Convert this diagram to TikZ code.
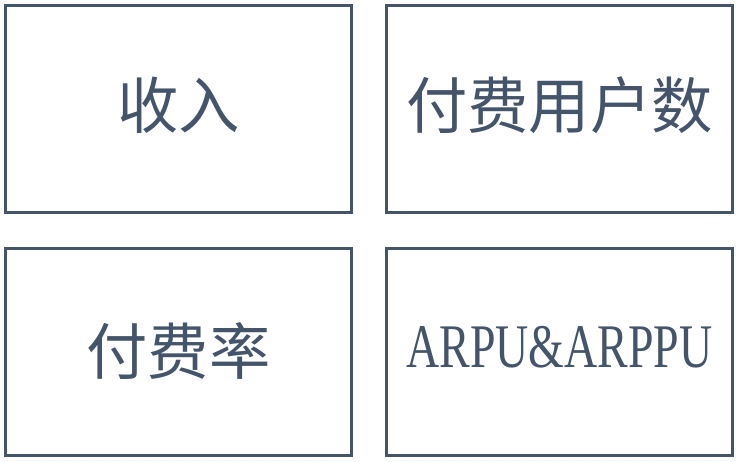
\documentclass[tikz,border=0pt]{standalone}
\usepackage{fontspec}
\setmainfont{Liberation Serif}
\newfontfamily\cjk{Noto Sans CJK SC}
\definecolor{slate}{RGB}{68,84,106}
\tikzset{every picture/.style={line width=0.75pt}}
\tikzset{
  metricbox/.style={draw=slate, line width=2.25pt, minimum width=259.5pt, minimum height=155.25pt, inner sep=0pt},
  cjklabel/.style={text=slate, font=\cjk\fontsize{46}{46}\selectfont},
}
\begin{document}
\begin{tikzpicture}[x=0.75pt,y=0.75pt,yscale=-1,xscale=1]
    \useasboundingbox (0,0) rectangle (736,461);
    % Boxes
    \node [metricbox] (revenue) at (178.5,109) {};
    \node [metricbox] (payers) at (559.5,109) {};
    \node [metricbox] (payrate) at (178.5,352) {};
    \node [metricbox] (arpu) at (559.5,352) {};
    % Labels
    \node [cjklabel] (revenuetext) at ([yshift=-3pt]revenue.center) {收入};
    \node [cjklabel] (payerstext) at ([yshift=-3pt]payers.center) {付费用户数};
    \node [cjklabel] (payratetext) at ([yshift=-1pt]payrate.center) {付费率};
    \node [text=slate, xscale=0.74, font=\fontsize{46.5}{46.5}\selectfont] (arputext) at ([yshift=-3.5pt]arpu.center) {ARPU\&ARPPU};

\end{tikzpicture}
\end{document}
